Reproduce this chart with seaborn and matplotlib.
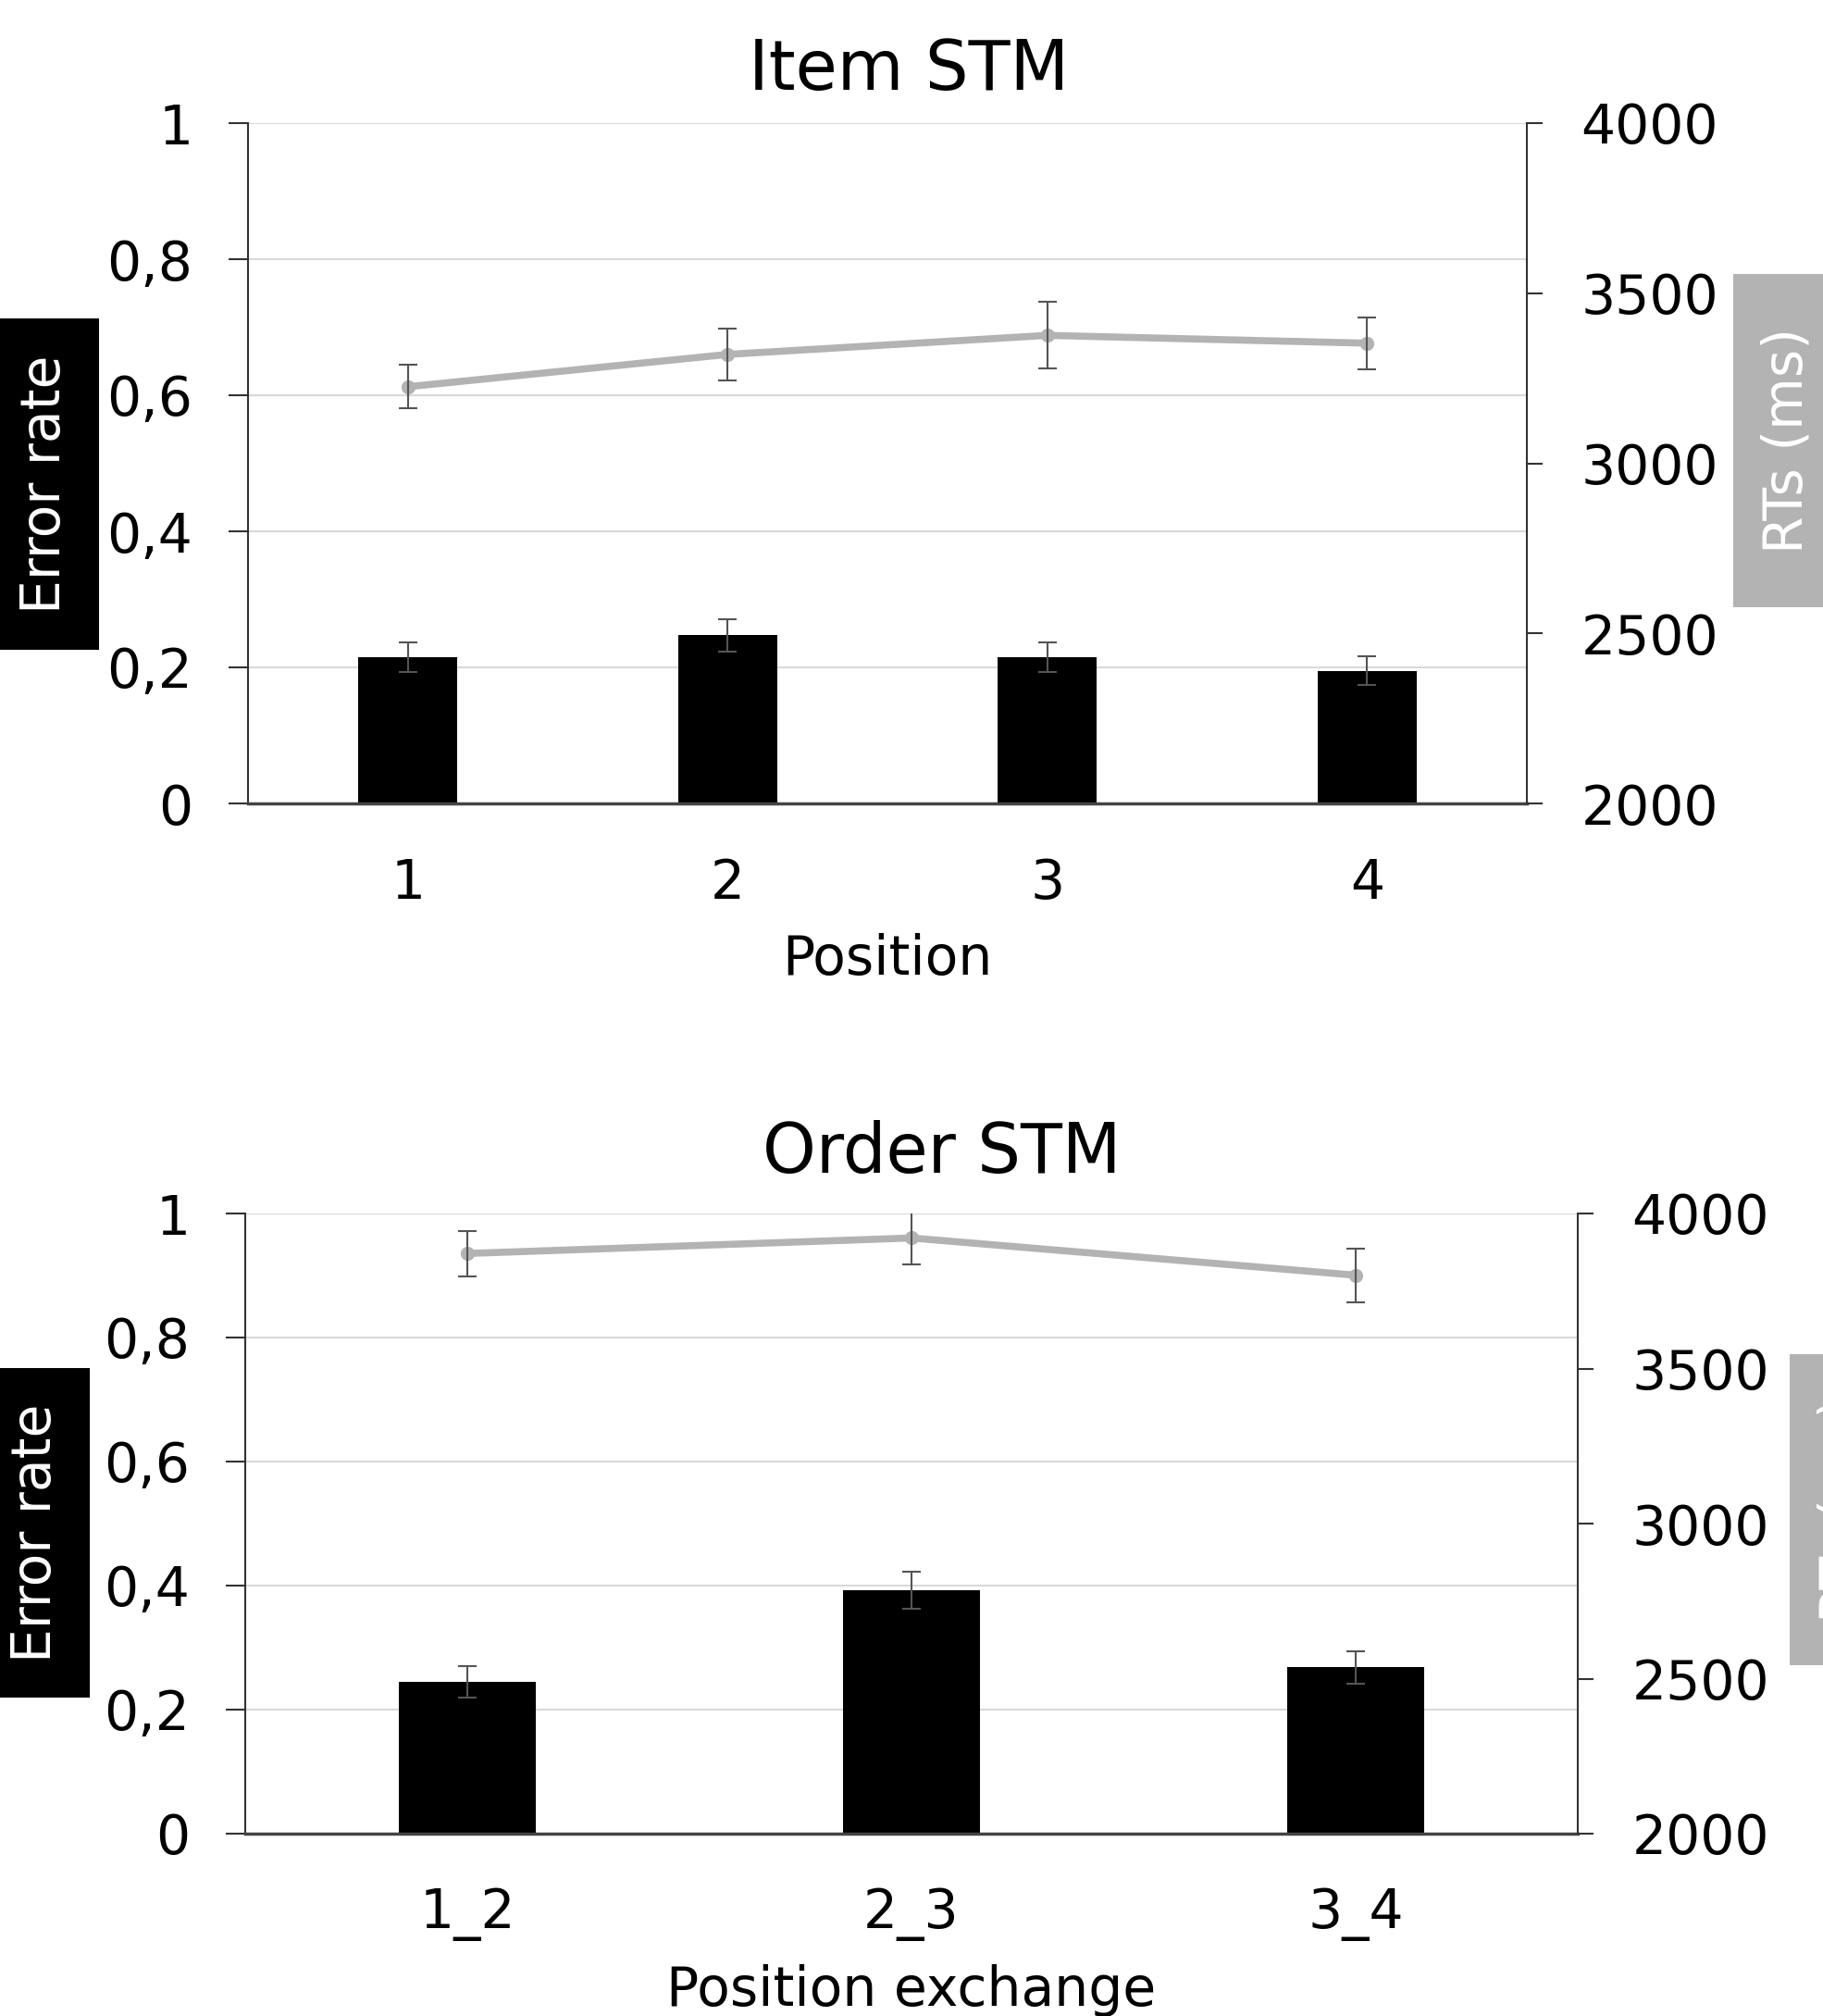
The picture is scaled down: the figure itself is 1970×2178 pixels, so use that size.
import matplotlib
matplotlib.use("Agg")
import matplotlib.pyplot as plt
from matplotlib.patches import Rectangle
import seaborn as sns
import numpy as np
import pandas as pd

# Item STM panel
item_pos = ["1", "2", "3", "4"]
item_err = [0.215, 0.247, 0.215, 0.195]
item_err_se = [0.022, 0.024, 0.022, 0.021]
item_rt = [3225, 3320, 3376, 3353]
item_rt_se = [64, 76, 98, 76]

# Order STM panel
order_pos = ["1_2", "2_3", "3_4"]
order_err = [0.245, 0.392, 0.268]
order_err_se = [0.025, 0.030, 0.026]
order_rt = [3871, 3921, 3801]
order_rt_se = [73, 85, 87]

err_ticks = [0, 0.2, 0.4, 0.6, 0.8, 1]
err_ticklabels = ["0", "0,2", "0,4", "0,6", "0,8", "1"]
rt_ticks = [2000, 2500, 3000, 3500, 4000]
rt_ticklabels = ["2000", "2500", "3000", "3500", "4000"]

sns.set_style("white")
plt.rcParams["font.family"] = ["DejaVu Sans"]
for k in ["text.color", "axes.labelcolor", "xtick.labelcolor", "ytick.labelcolor"]:
    plt.rcParams[k] = "black"

W, H = 1970, 2178
fig = plt.figure(figsize=(W / 100, H / 100), dpi=100)

FS = 42
line_col = "#b3b3b3"
eb_col = "#555555"


def draw_panel(ax, cats, err, err_se, rt, rt_se, xlabel):
    df = pd.DataFrame({"pos": cats, "err": err})
    sns.barplot(data=df, x="pos", y="err", color="black", width=0.31,
                saturation=1, errorbar=None, linewidth=0, ax=ax, zorder=2)
    x = np.arange(len(cats))
    ax.errorbar(x, err, yerr=err_se, fmt="none", ecolor=eb_col,
                elinewidth=1.5, capsize=7, capthick=1.5, zorder=3)
    ax.set_xlim(-0.5, len(cats) - 0.5)
    ax.set_ylim(0, 1)
    ax.set_yticks(err_ticks)
    ax.set_yticklabels(err_ticklabels)
    ax.set_ylabel("")
    ax.set_xlabel(xlabel, fontsize=FS, labelpad=18)
    ax.set_axisbelow(True)
    ax.yaxis.grid(True, color="#d9d9d9", lw=1.5)
    ax.xaxis.grid(False)
    ax.tick_params(axis="y", length=15, width=1.5, color="#333333",
                   pad=28, labelsize=FS, left=True)
    ax.tick_params(axis="x", length=0, pad=42, labelsize=FS)
    for s in ["top", "right"]:
        ax.spines[s].set_visible(False)
    ax.spines["left"].set_color("#333333")
    ax.spines["left"].set_linewidth(1.5)
    ax.spines["bottom"].set_color("#444444")
    ax.spines["bottom"].set_linewidth(2.5)

    ax2 = ax.twinx()
    sns.lineplot(x=x, y=rt, ax=ax2, color=line_col, lw=5.5, marker="o",
                 markersize=11, markeredgewidth=0, zorder=4)
    ax2.errorbar(x, rt, yerr=rt_se, fmt="none", ecolor=eb_col,
                 elinewidth=1.5, capsize=7, capthick=1.5, zorder=5)
    ax2.set_ylim(2000, 4000)
    ax2.set_yticks(rt_ticks)
    ax2.set_yticklabels(rt_ticklabels)
    ax2.set_xlim(-0.5, len(cats) - 0.5)
    ax2.tick_params(axis="y", length=12, width=1.5, color="#333333",
                    pad=30, labelsize=FS, right=True)
    for s in ["top", "left", "bottom"]:
        ax2.spines[s].set_visible(False)
    ax2.spines["right"].set_color("#333333")
    ax2.spines["right"].set_linewidth(1.5)
    return ax2


ax_top = fig.add_axes([268 / W, 1 - 868 / H, (1650 - 268) / W, (868 - 133) / H])
draw_panel(ax_top, item_pos, item_err, item_err_se, item_rt, item_rt_se, "Position")

ax_bot = fig.add_axes([265 / W, 1 - 1981 / H, (1705 - 265) / W, (1981 - 1311) / H])
draw_panel(ax_bot, order_pos, order_err, order_err_se, order_rt, order_rt_se, "Position exchange")

# titles
fig.text(982 / W, 1 - 76 / H, "Item STM", ha="center", va="center", fontsize=53)
fig.text(1018 / W, 1 - 1246 / H, "Order STM", ha="center", va="center", fontsize=53)


# boxed axis labels (box edges in pixels: x0, x1, y_top, y_bottom)
def boxed_label(x0, x1, yt, yb, tx, ty, face):
    fig.patches.append(Rectangle((x0 / W, 1 - yb / H), (x1 - x0) / W, (yb - yt) / H,
                                 transform=fig.transFigure, facecolor=face,
                                 edgecolor="none", zorder=0))
    fig.text(tx / W, 1 - ty / H, "Error rate" if face == "black" else "RTs (ms)",
             rotation=90, ha="center", va="center", fontsize=FS, color="white")


boxed_label(0, 107, 344, 702, 49, 523, "black")
boxed_label(0, 97, 1478, 1834, 39, 1656, "black")
boxed_label(1873, 1970, 296, 656, 1931, 476, line_col)
boxed_label(1934, 1970, 1463, 1799, 1992, 1631, line_col)

fig.savefig("out.png", dpi=100)
